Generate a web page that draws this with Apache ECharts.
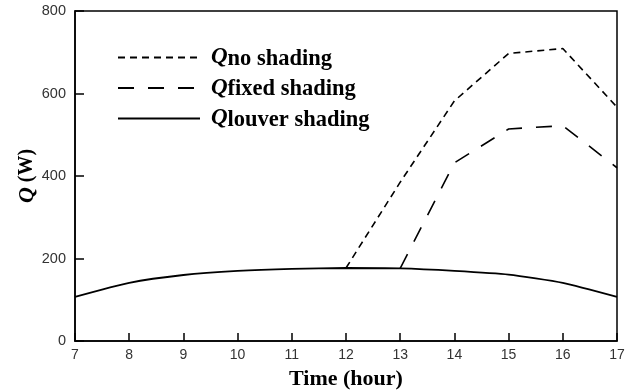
<!DOCTYPE html>
<html>
<head>
<meta charset="utf-8">
<script src="https://cdn.jsdelivr.net/npm/echarts@6/dist/echarts.min.js"></script>
<style>
  html, body { margin: 0; padding: 0; background: #fff; }
  #chart { width: 637px; height: 391px; }
</style>
</head>
<body>
<div id="chart"></div>
<script>
'use strict';
// hours on x, heat gain Q (W) on y
const hours = [7, 8, 9, 10, 11, 12, 13, 14, 15, 16, 17];
const qNoShading = [null, null, null, null, null, 177, 385, 582, 697, 709, 567];
const qFixedShading = [null, null, null, null, null, null, 176, 432, 514, 522, 420];
const qLouverShading = [107, 141, 160, 170, 175, 177, 176, 170, 161, 141, 107];
const yTicks = [0, 200, 400, 600, 800];

const SERIF = "'Liberation Serif', 'Times New Roman', serif";
const SANS = "'Liberation Sans', Arial, sans-serif";

const pairs = (ys) => hours.map((h, i) => [h, ys[i]]).filter((p) => p[1] != null);

const legendLabel = { 'no shading': 'no shading', 'fixed shading': 'fixed shading', 'louver shading': 'louver shading' };

const chart = echarts.init(document.getElementById('chart'), null, { renderer: 'canvas' });
chart.setOption({
  backgroundColor: '#fff',
  animation: false,
  grid: { left: 75, right: 20, top: 11, bottom: 50, outerBoundsMode: 'none', show: true, borderColor: '#000', borderWidth: 1.5 },
  legend: {
    orient: 'vertical', left: 112, top: 41, itemWidth: 82, itemHeight: 14, itemGap: 6,
    data: Object.keys(legendLabel),
    itemStyle: { opacity: 0 },
    formatter: (n) => '{q|Q}{s|' + legendLabel[n] + '}',
    textStyle: {
      rich: {
        q: { fontFamily: SERIF, fontStyle: 'italic', fontWeight: 'bold', fontSize: 23, color: '#000', padding: [0, 0, 0, 6] },
        s: { fontFamily: SERIF, fontWeight: 'bold', fontSize: 22.5, color: '#000', padding: [3, 0, 0, 0] }
      }
    }
  },
  xAxis: {
    type: 'value', min: 7, max: 17, interval: 1,
    name: 'Time (hour)', nameLocation: 'middle', nameGap: 27, nameMoveOverlap: false,
    nameTextStyle: { fontFamily: SERIF, fontWeight: 'bold', fontSize: 22, color: '#000' },
    axisLine: { lineStyle: { color: '#000', width: 1.5 } },
    axisTick: { inside: true, length: 8, lineStyle: { color: '#000', width: 1.5 } },
    axisLabel: { fontFamily: SANS, fontSize: 14, color: '#333', margin: 7 },
    splitLine: { show: false }
  },
  yAxis: {
    type: 'value', min: yTicks[0], max: yTicks[yTicks.length - 1], interval: 200,
    name: '{q|Q} (W)', nameLocation: 'middle', nameGap: 37, nameRotate: 90, nameMoveOverlap: false,
    nameTextStyle: {
      fontFamily: SERIF, fontWeight: 'bold', fontSize: 20, color: '#000',
      rich: { q: { fontFamily: SERIF, fontStyle: 'italic', fontWeight: 'bold', fontSize: 22, color: '#000' } }
    },
    axisLine: { lineStyle: { color: '#000', width: 1.5 } },
    axisTick: { inside: true, length: 9, lineStyle: { color: '#000', width: 1.5 } },
    axisLabel: { fontFamily: SANS, fontSize: 14.5, color: '#333', margin: 9 },
    splitLine: { show: false }
  },
  series: [
    { name: 'no shading', type: 'line', data: pairs(qNoShading), symbol: 'none',
      lineStyle: { color: '#000', width: 1.6, type: [7, 5] }, itemStyle: { color: '#000' } },
    { name: 'fixed shading', type: 'line', data: pairs(qFixedShading), symbol: 'none',
      lineStyle: { color: '#000', width: 1.6, type: [16, 14] }, itemStyle: { color: '#000' } },
    { name: 'louver shading', type: 'line', data: pairs(qLouverShading), symbol: 'none', smooth: 0.2,
      lineStyle: { color: '#000', width: 1.8 }, itemStyle: { color: '#000' } }
  ]
});
</script>
</body>
</html>
